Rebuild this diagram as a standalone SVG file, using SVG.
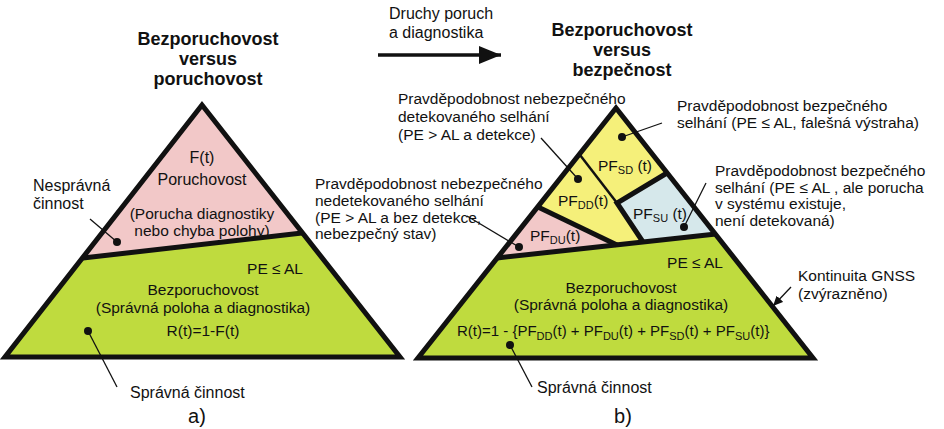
<svg xmlns="http://www.w3.org/2000/svg" width="944" height="429" viewBox="0 0 944 429">
<defs>
<marker id="bigArrow" markerUnits="userSpaceOnUse" markerWidth="24" markerHeight="20" refX="22" refY="10" orient="auto">
<polygon points="0,1 22,10 0,19" fill="#111"/>
</marker>
<marker id="smallArrow" markerUnits="userSpaceOnUse" markerWidth="12" markerHeight="10" refX="10" refY="5" orient="auto">
<polygon points="0,0.5 10,5 0,9.5" fill="#111"/>
</marker>
<style>
text{font-family:"Liberation Sans",Arial,sans-serif;fill:#111;font-size:15.5px}
.title{font-weight:bold;font-size:18px;text-anchor:middle}
.mid{text-anchor:middle}
.end{text-anchor:end}
.sub{font-size:11px}
.big{font-size:16px}
.cap{font-size:20px}
.formula{font-size:15px}
.pink{fill:#f2c8c8}
.green{fill:#bfdb3e}
.yellow{fill:#f5f07a}
.blue{fill:#d6e8eb}
.thick{stroke:#111;stroke-width:5;fill:none;stroke-linejoin:miter}
.thin{stroke:#111;stroke-width:2.5;fill:none}
.lead{stroke:#111;stroke-width:1.3;fill:none}
.dot{fill:#111}
</style>
</defs>

<g id="title-left">
<text class="title" x="208" y="45">Bezporuchovost</text>
<text class="title" x="208" y="65">versus</text>
<text class="title" x="208" y="85">poruchovost</text>
</g>

<g id="title-right">
<text class="title" x="622" y="36">Bezporuchovost</text>
<text class="title" x="622" y="56">versus</text>
<text class="title" x="622" y="76">bezpečnost</text>
</g>

<g id="arrow-label">
<text class="big" x="389" y="19">Druchy poruch</text>
<text class="big" x="389" y="38">a diagnostika</text>
</g>

<g id="triangle-a">
<polygon class="pink" points="202,105 302,233 83,258"/>
<polygon class="green" points="83,258 302,233 400,357 5,357"/>
<line class="thick" x1="83" y1="258" x2="302" y2="233"/>
<polygon class="thick" points="202,105 400,357 5,357"/>
<text class="mid big" x="202" y="163">F(t)</text>
<text class="mid big" x="202" y="185">Poruchovost</text>
<text class="mid" x="202" y="219">(Porucha diagnostiky</text>
<text class="mid" x="202" y="236">nebo chyba polohy)</text>
<text class="end" x="303" y="274">PE ≤ AL</text>
<text class="mid" x="203" y="295">Bezporuchovost</text>
<text class="mid" x="203" y="313">(Správná poloha a diagnostika)</text>
<text class="mid" x="203" y="336">R(t)=1-F(t)</text>
<circle class="dot" cx="117" cy="242" r="4"/>
<circle class="dot" cx="88" cy="331" r="4"/>
</g>

<g id="label-nespravna">
<text class="big" x="33" y="191">Nesprávná</text>
<text class="big" x="33" y="209">činnost</text>
</g>

<g id="label-spravna-a">
<text class="big" x="130" y="398">Správná činnost</text>
</g>

<g id="caption-a">
<text class="mid cap" x="197" y="423">a)</text>
</g>

<g id="triangle-b">
<polygon class="yellow" points="616,108 667,173 617,203 580,155"/>
<polygon class="blue" points="617,203 667,173 716,234 643,242"/>
<polygon class="yellow" points="580,155 617,203 643,242 617,245 538,207"/>
<polygon class="pink" points="538,207 617,245 497,258"/>
<polygon class="green" points="497,258 716,234 813,358 418,358"/>
<line class="thin" x1="580" y1="155" x2="617" y2="203"/>
<polyline class="thick" points="667,173 617,203 643,242"/>
<line class="thick" x1="538" y1="207" x2="617" y2="245"/>
<line class="thick" x1="497" y1="258" x2="716" y2="234"/>
<polygon class="thick" points="616,108 813,358 418,358"/>
<text x="598" y="171">PF<tspan class="sub" dy="3">SD</tspan><tspan dy="-3"> (t)</tspan></text>
<text x="558" y="206">PF<tspan class="sub" dy="3">DD</tspan><tspan dy="-3">(t)</tspan></text>
<text x="633" y="219">PF<tspan class="sub" dy="3">SU</tspan><tspan dy="-3"> (t)</tspan></text>
<text x="530" y="241">PF<tspan class="sub" dy="3">DU</tspan><tspan dy="-3">(t)</tspan></text>
<text class="end" x="723" y="268">PE ≤ AL</text>
<text class="mid" x="621" y="293">Bezporuchovost</text>
<text class="mid" x="621" y="310">(Správná poloha a diagnostika)</text>
<text class="formula" x="457" y="336">R(t)=1 - {PF<tspan class="sub" dy="4">DD</tspan><tspan dy="-4">(t) +  PF</tspan><tspan class="sub" dy="4">DU</tspan><tspan dy="-4">(t) + PF</tspan><tspan class="sub" dy="4">SD</tspan><tspan dy="-4">(t) + PF</tspan><tspan class="sub" dy="4">SU</tspan><tspan dy="-4">(t)}</tspan></text>
<circle class="dot" cx="622" cy="137" r="4"/>
<circle class="dot" cx="578" cy="179" r="4"/>
<circle class="dot" cx="684" cy="227" r="4"/>
<circle class="dot" cx="519" cy="247" r="4"/>
<circle class="dot" cx="510" cy="345" r="4"/>
</g>

<g id="label-sd">
<text x="677" y="111">Pravděpodobnost bezpečného</text>
<text x="677" y="128">selhání (PE ≤ AL, falešná výstraha)</text>
</g>

<g id="label-su">
<text x="715" y="176">Pravděpodobnost bezpečného</text>
<text x="715" y="193">selhání (PE ≤ AL , ale porucha</text>
<text x="715" y="209">v systému existuje,</text>
<text x="715" y="226">není detekovaná)</text>
</g>

<g id="label-dd">
<text x="398" y="104">Pravděpodobnost nebezpečného</text>
<text x="398" y="122">detekovaného selhání</text>
<text x="398" y="140">(PE &gt; AL a detekce)</text>
</g>

<g id="label-du">
<text x="315" y="189">Pravděpodobnost nebezpečného</text>
<text x="315" y="206">nedetekovaného selhání</text>
<text x="315" y="223">(PE &gt; AL a bez detekce,</text>
<text x="315" y="239">nebezpečný stav)</text>
</g>

<g id="label-kontinuita">
<text x="798" y="281">Kontinuita GNSS</text>
<text x="798" y="299">(zvýrazněno)</text>
</g>

<g id="label-spravna-b">
<text class="big" x="537" y="393">Správná činnost</text>
</g>

<g id="caption-b">
<text class="mid cap" x="623" y="423">b)</text>
</g>

<g id="connectors">
<line x1="378" y1="55" x2="501" y2="55" stroke="#111" stroke-width="3.5" marker-end="url(#bigArrow)"/>
<line class="lead" x1="90" y1="219" x2="117" y2="242"/>
<line class="lead" x1="88" y1="331" x2="117" y2="387"/>
<line class="lead" x1="622" y1="137" x2="662" y2="123"/>
<line class="lead" x1="578" y1="179" x2="541" y2="138"/>
<line class="lead" x1="684" y1="227" x2="706" y2="183"/>
<line class="lead" x1="519" y1="247" x2="467" y2="216"/>
<line class="lead" x1="510" y1="345" x2="532" y2="387"/>
<line class="lead" x1="791" y1="287" x2="773" y2="306" marker-end="url(#smallArrow)"/>
</g>
</svg>
